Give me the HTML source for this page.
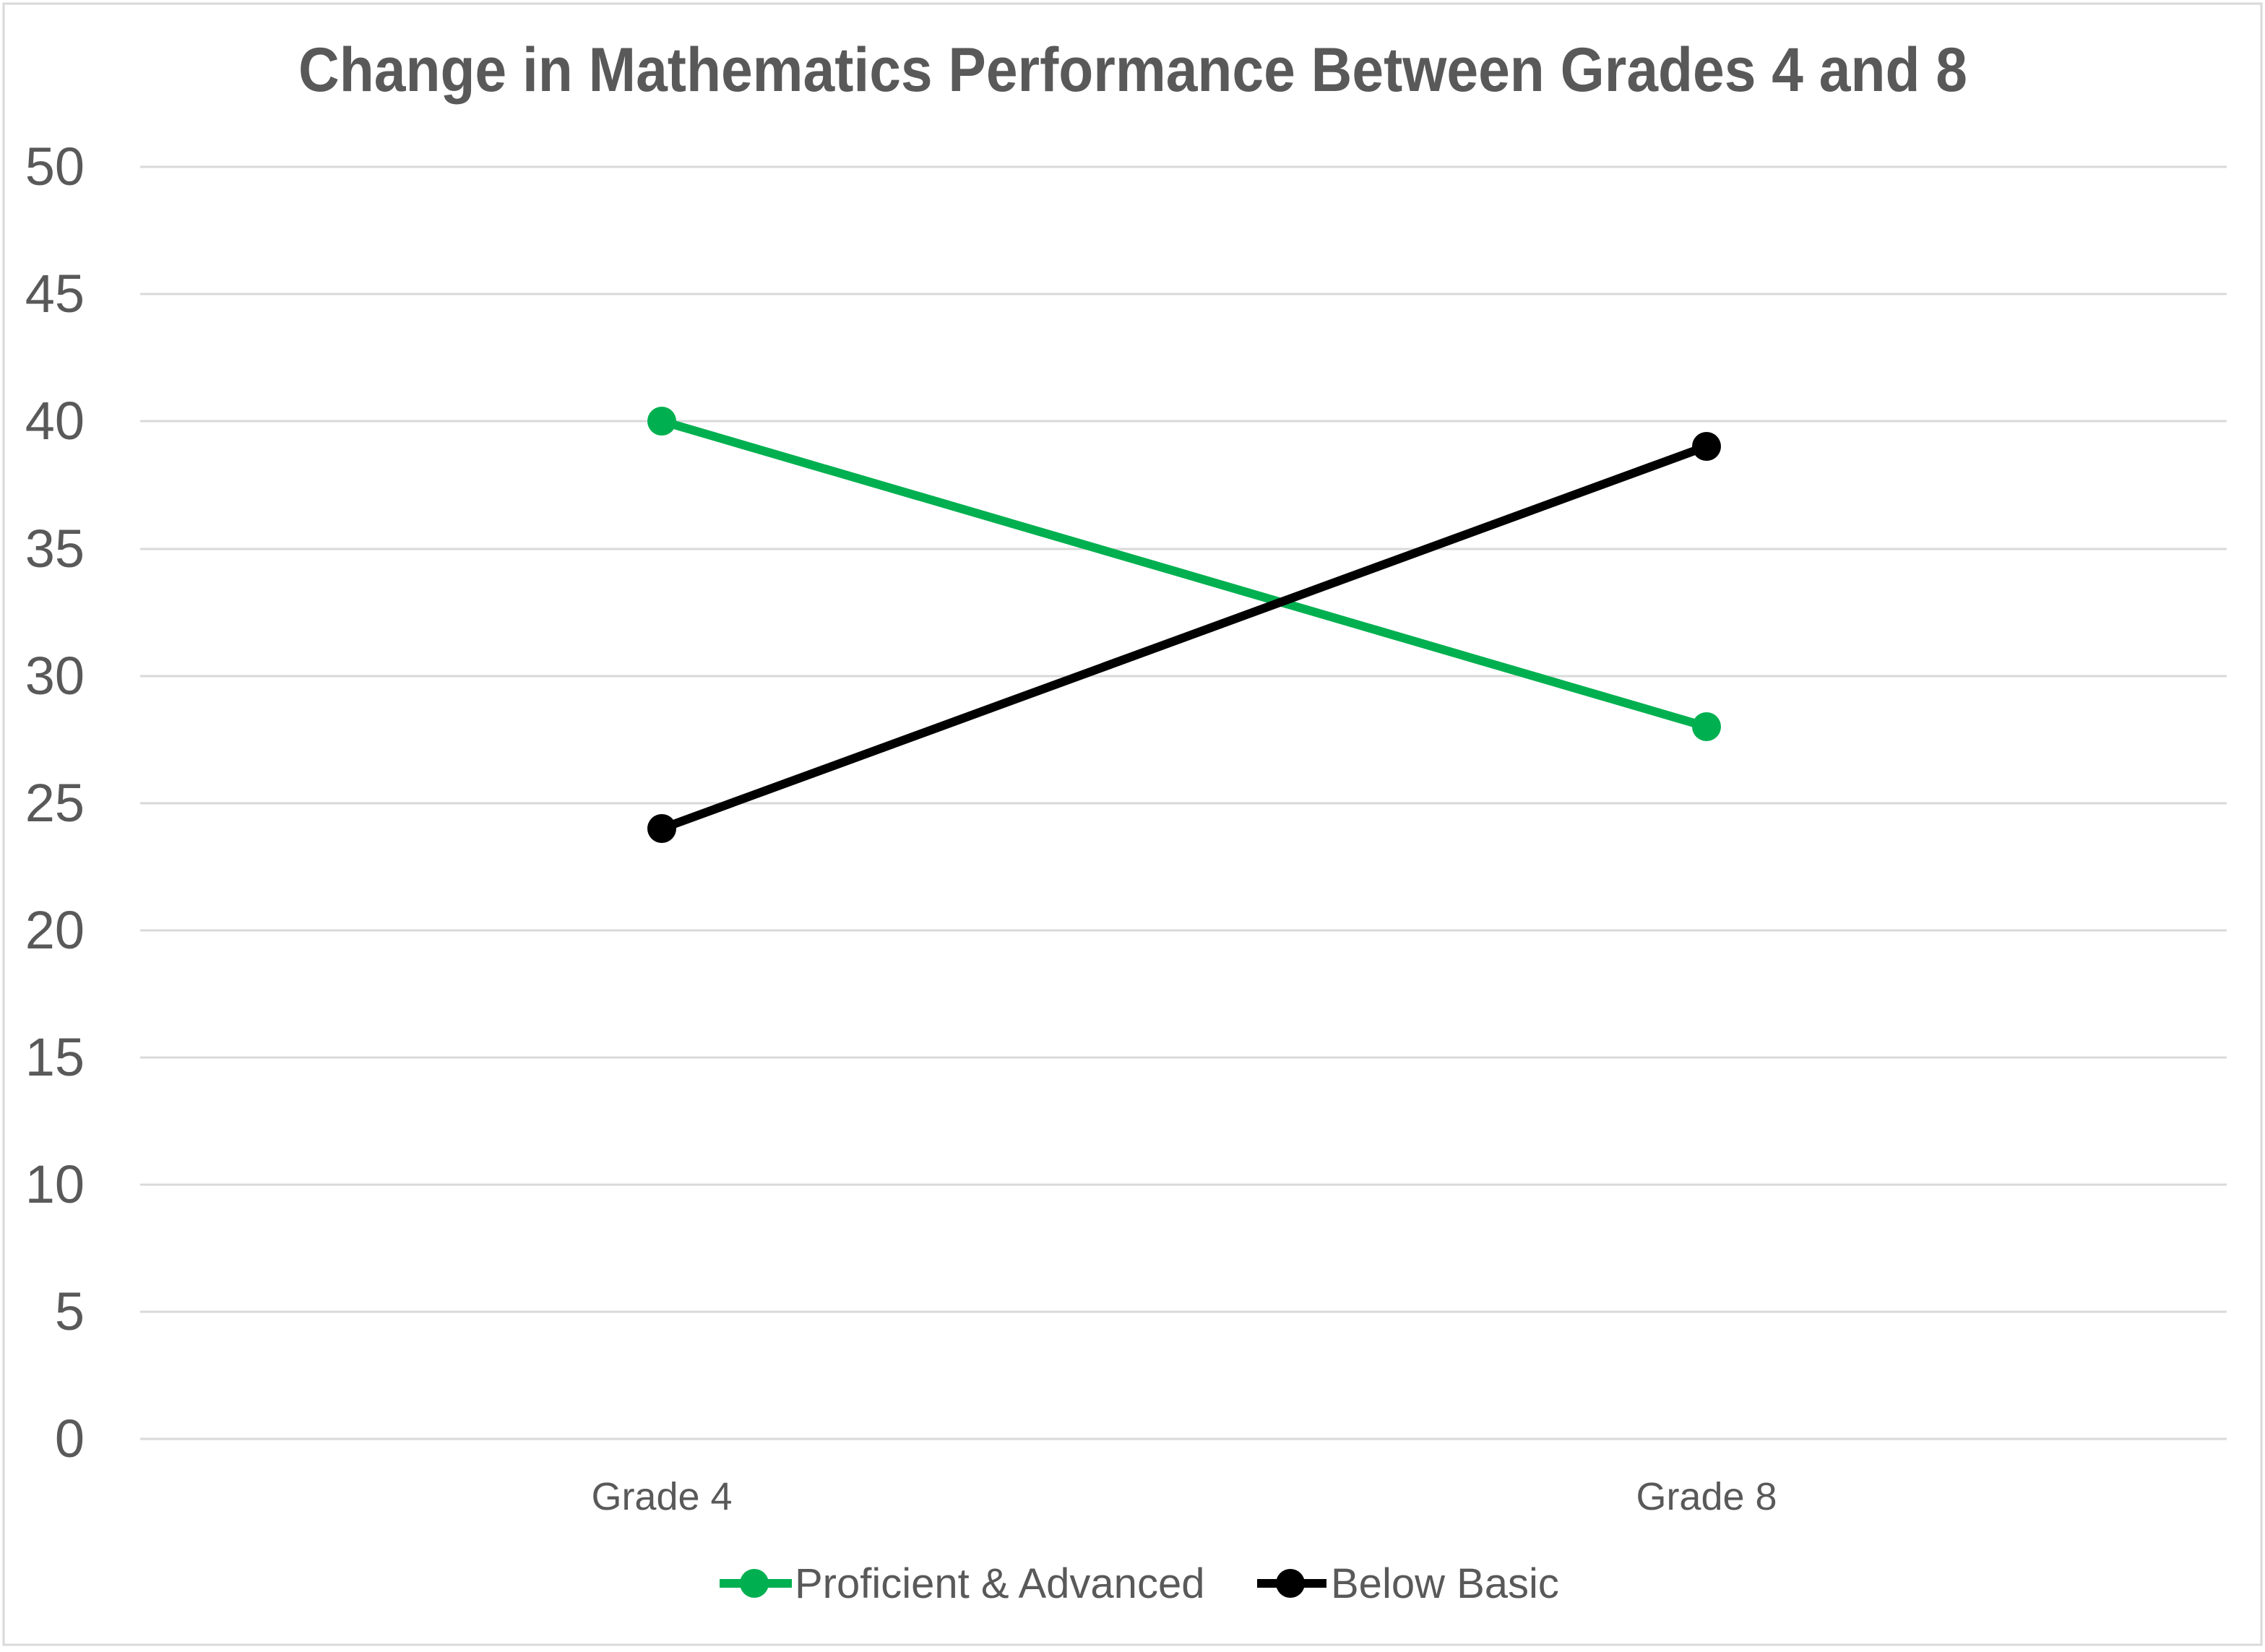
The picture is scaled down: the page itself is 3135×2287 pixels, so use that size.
<!DOCTYPE html>
<html><head><meta charset="utf-8"><style>html,body{margin:0;padding:0;background:#fff}</style></head>
<body>
<svg width="3135" height="2282" viewBox="0 0 3135 2282" xmlns="http://www.w3.org/2000/svg" font-family="Liberation Sans, sans-serif">
<rect x="0" y="0" width="3135" height="2282" fill="#fff"/>
<rect x="5" y="5" width="3125" height="2272" fill="none" stroke="#d9d9d9" stroke-width="3"/>
<text x="1568" y="126" text-anchor="middle" font-size="86" font-weight="bold" fill="#595959" textLength="2310" lengthAdjust="spacingAndGlyphs">Change in Mathematics Performance Between Grades 4 and 8</text>
<g stroke="#d9d9d9" stroke-width="3">
<line x1="194" x2="3082" y1="231" y2="231"/>
<line x1="194" x2="3082" y1="407" y2="407"/>
<line x1="194" x2="3082" y1="583" y2="583"/>
<line x1="194" x2="3082" y1="760" y2="760"/>
<line x1="194" x2="3082" y1="936" y2="936"/>
<line x1="194" x2="3082" y1="1112" y2="1112"/>
<line x1="194" x2="3082" y1="1288" y2="1288"/>
<line x1="194" x2="3082" y1="1464" y2="1464"/>
<line x1="194" x2="3082" y1="1640" y2="1640"/>
<line x1="194" x2="3082" y1="1816" y2="1816"/>
<line x1="194" x2="3082" y1="1992" y2="1992"/>
</g>
<g font-size="74" fill="#595959" text-anchor="end">
<text x="117" y="256">50</text>
<text x="117" y="432">45</text>
<text x="117" y="608">40</text>
<text x="117" y="785">35</text>
<text x="117" y="961">30</text>
<text x="117" y="1137">25</text>
<text x="117" y="1313">20</text>
<text x="117" y="1489">15</text>
<text x="117" y="1665">10</text>
<text x="117" y="1841">5</text>
<text x="117" y="2017">0</text>
</g>
<g font-size="54" fill="#595959" text-anchor="middle">
<text x="916" y="2090">Grade 4</text>
<text x="2362" y="2090">Grade 8</text>
</g>
<line x1="916" y1="583" x2="2362" y2="1006" stroke="#00b050" stroke-width="12" stroke-linecap="round"/>
<circle cx="916" cy="583" r="20" fill="#00b050"/>
<circle cx="2362" cy="1006" r="20" fill="#00b050"/>
<line x1="916" y1="1147" x2="2362" y2="618" stroke="#000" stroke-width="12" stroke-linecap="round"/>
<circle cx="916" cy="1147" r="20" fill="#000"/>
<circle cx="2362" cy="618" r="20" fill="#000"/>
<line x1="996" y1="2192" x2="1096" y2="2192" stroke="#00b050" stroke-width="12"/>
<circle cx="1044" cy="2192" r="20" fill="#00b050"/>
<text x="1100" y="2212" font-size="58" fill="#595959">Proficient &amp; Advanced</text>
<line x1="1740" y1="2192" x2="1836" y2="2192" stroke="#000" stroke-width="12"/>
<circle cx="1786" cy="2192" r="20" fill="#000"/>
<text x="1842" y="2212" font-size="58" fill="#595959">Below Basic</text>
</svg>
</body></html>
